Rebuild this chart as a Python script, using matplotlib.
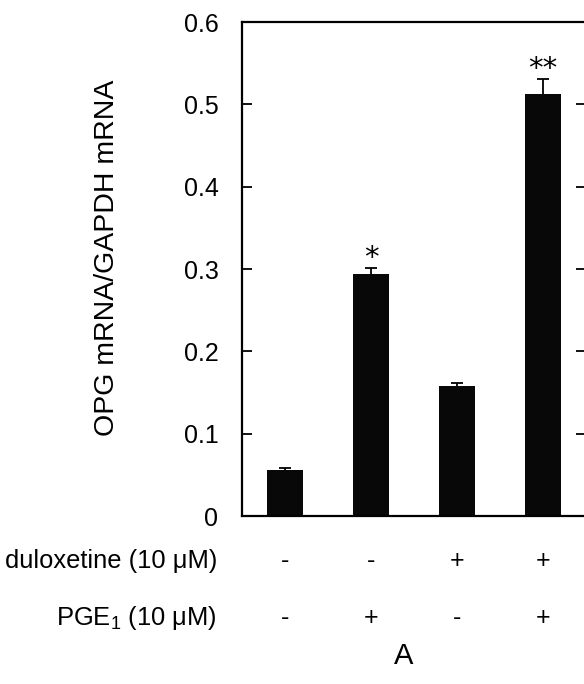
import matplotlib.pyplot as plt
from matplotlib.transforms import blended_transform_factory

plt.rcParams['font.family'] = ['Liberation Sans', 'DejaVu Sans']
plt.rcParams['mathtext.fontset'] = 'custom'
plt.rcParams['mathtext.rm'] = 'Liberation Sans'

# OPG / GAPDH mRNA ratios, mean and error
means = [0.056, 0.294, 0.158, 0.513]
errors = [0.002, 0.007, 0.004, 0.018]
stars = ['', '*', '', '**']
duloxetine = ['-', '-', '+', '+']
pge1 = ['-', '+', '-', '+']
yticks = [0, 0.1, 0.2, 0.3, 0.4, 0.5, 0.6]

fig = plt.figure(figsize=(5.84, 6.84), dpi=100)
ax = fig.add_axes([0.4144, 0.2456, 0.589, 0.7222])

x = range(len(means))
ax.bar(x, means, width=0.42, color='#080808', edgecolor='none', zorder=2)
ax.errorbar(x, means, yerr=errors, fmt='none', ecolor='black',
            elinewidth=1.3, capsize=4, capthick=1.3, zorder=1)

for xi, m, e, s in zip(x, means, errors, stars):
    if s:
        ax.annotate(s, (xi, m + e), xytext=(0, -3), textcoords='offset points',
                    ha='center', va='bottom', fontsize=21,
                    family='DejaVu Sans')

ax.set_xlim(-0.5, 3.5)
ax.set_ylim(0, 0.6)
ax.set_yticks(yticks)
ax.set_yticklabels(['0' if v == 0 else f'{v:.1f}' for v in yticks])
ax.set_xticks([])
ax.tick_params(axis='y', direction='in', length=7, width=1.3, labelsize=18,
               pad=17, right=True)
for sp in ax.spines.values():
    sp.set_linewidth(1.6)
ax.set_ylabel('OPG mRNA/GAPDH mRNA', fontsize=20.5)
ax.yaxis.set_label_coords(-0.355, 0.522)

# treatment table under the bars
tr = blended_transform_factory(ax.transData, fig.transFigure)
for xi, d, p in zip(x, duloxetine, pge1):
    ax.text(xi, 1 - 561 / 684, d, transform=tr, ha='center', va='center',
            fontsize=18)
    ax.text(xi, 1 - 618 / 684, p, transform=tr, ha='center', va='center',
            fontsize=18)
fig.text(217 / 584, 1 - 561 / 684, 'duloxetine (10 μM)', ha='right',
         va='center', fontsize=18.4)
fig.text(217 / 584, 1 - 618 / 684, r'PGE$_1$ (10 μM)', ha='right',
         va='center', fontsize=18.4)
fig.text(404 / 584, 1 - 656 / 684, 'A', ha='center', va='center', fontsize=21)

fig.savefig('out.png', dpi=100)
